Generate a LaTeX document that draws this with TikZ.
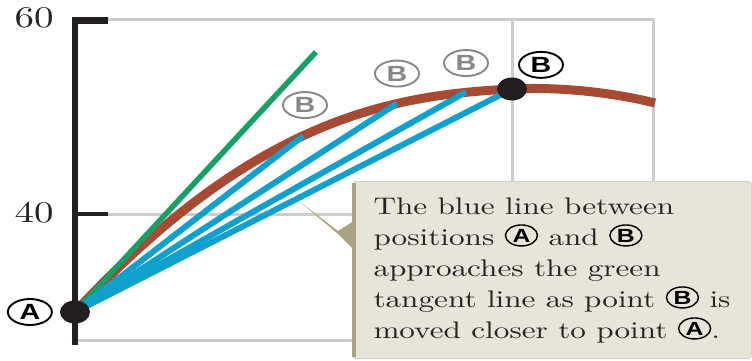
\documentclass[tikz,border=0pt]{standalone}
\usepackage{fontspec}
\usepackage{tikz}
\usepackage{xcolor}
\usetikzlibrary{positioning,shapes.geometric,calc}

\newfontfamily\notefont{lmroman10-regular.otf}[FakeStretch=1.3]
\newfontfamily\markfont{Liberation Sans}[FakeStretch=1.3]

\definecolor{grid-gray}{RGB}{204,204,208}
\definecolor{axis-black}{RGB}{35,31,32}
\definecolor{path-brown}{RGB}{166,74,52}
\definecolor{tan-green}{RGB}{22,160,104}
\definecolor{chord-blue}{RGB}{16,160,205}
\definecolor{label-gray}{RGB}{135,135,135}
\definecolor{note-fill}{RGB}{231,229,218}
\definecolor{note-line}{RGB}{212,210,196}
\definecolor{note-edge}{RGB}{168,163,128}
\definecolor{note-text}{RGB}{38,36,34}

\tikzset{
pt-inline/.style={ellipse, draw=black, line width=1.4pt, inner sep=0pt,
                  minimum width=32pt, minimum height=21pt, text=black,
                  font=\markfont\bfseries\fontsize{19}{19}\selectfont}
}
\newcommand{\ptmark}[1]{\tikz[baseline={([yshift=-3pt]m.base)}]\node[pt-inline] (m) {#1};}

\begin{document}
\begin{tikzpicture}
[
x=1pt, y=-1pt,
grid-line/.style={grid-gray, line width=3pt},
axis-line/.style={axis-black, line width=6.5pt},
tick-label/.style={text=note-text, font=\notefont\fontsize{30}{30}\selectfont},
path-line/.style={path-brown, line width=9pt},
tangent-line/.style={tan-green, line width=5.5pt},
chord-line/.style={chord-blue, line width=6pt},
pt-dot/.style={ellipse, fill=axis-black, inner sep=0pt, minimum width=30pt, minimum height=23pt},
pt-label/.style={ellipse, draw=black, line width=1.9pt, inner sep=0pt,
                 minimum width=44pt, minimum height=26pt, text=black,
                 font=\markfont\bfseries\fontsize{22}{22}\selectfont},
pt-label-gray/.style={pt-label, draw=label-gray, text=label-gray},
note-box/.style={fill=note-fill, draw=note-line, line width=1pt, rounded corners=3pt,
                 align=left, inner xsep=21pt, minimum width=397pt, minimum height=177pt,
                 text=note-text, font=\notefont\fontsize{24}{31}\selectfont}
]
\useasboundingbox (0,0) rectangle (752,361);

% grid
\draw[grid-line] (108,20)    -- (655,20);
\draw[grid-line] (512,20)    -- (512,181);
\draw[grid-line] (653.5,20)  -- (653.5,181);
\draw[grid-line] (108,214)   -- (352,214);
\draw[grid-line] (78,340)    -- (352,340);

% axis
\draw[axis-line, line join=miter] (108,20.5) -- (75,20.5) -- (75,345);
\draw[axis-line, line width=4.5pt] (75,214) -- (108,214);
\node (y-60) [tick-label] at (34,18)  {60};
\node (y-40) [tick-label] at (34,213) {40};

% points
\coordinate (pt-a)     at (75,312);
\coordinate (pt-b)     at (512,89);
\coordinate (end-1)    at (303,136);
\coordinate (end-2)    at (397,103.5);
\coordinate (end-3)    at (466,92);
\coordinate (tan-end)  at (316,52);
\coordinate (path-end) at (655,103);

\draw[path-line] (pt-a) .. controls (255,118) and (392,95) .. (pt-b)
                        .. controls (552,87) and (605,90.6) .. (path-end);
\draw[tangent-line] (pt-a) -- (tan-end);
\foreach \e in {end-1,end-2,end-3,pt-b}
  \draw[chord-line] (pt-a) -- (\e);

\node (dot-a) [pt-dot] at (pt-a) {};
\node (dot-b) [pt-dot] at (pt-b) {};

\node (lab-a)   [pt-label, left  = 7pt of dot-a]                {A};
\node (lab-b)   [pt-label, above right = 6pt and 2pt of dot-b]  {B};
\node (lab-b-1) [pt-label-gray, above = 17pt of end-1, xshift=2pt] {B};
\node (lab-b-2) [pt-label-gray, above = 16pt of end-2]          {B};
\node (lab-b-3) [pt-label-gray, above = 15pt of end-3]          {B};

% callout
\node (note) [note-box, anchor=north west] at (352,181)
  {The blue line between\\
   positions \ptmark{A} and \ptmark{B}\\
   approaches the green\\
   tangent line as point \ptmark{B} is\\
   moved closer to point \ptmark{A}.};
\coordinate (note-tip) at (300,202);
\fill[note-edge] (note-tip) -- ($(note.north west)+(-14,50)$) -- ($(note.north west)+(0,41)$)
                 -- ($(note.north west)+(0,67)$) -- ($(note.north west)+(-14,53)$) -- cycle;
\draw[note-edge, line width=4pt] ([xshift=2pt,yshift=-2pt]note.north west) -- ([xshift=2pt,yshift=2pt]note.south west);
\end{tikzpicture}
\end{document}
